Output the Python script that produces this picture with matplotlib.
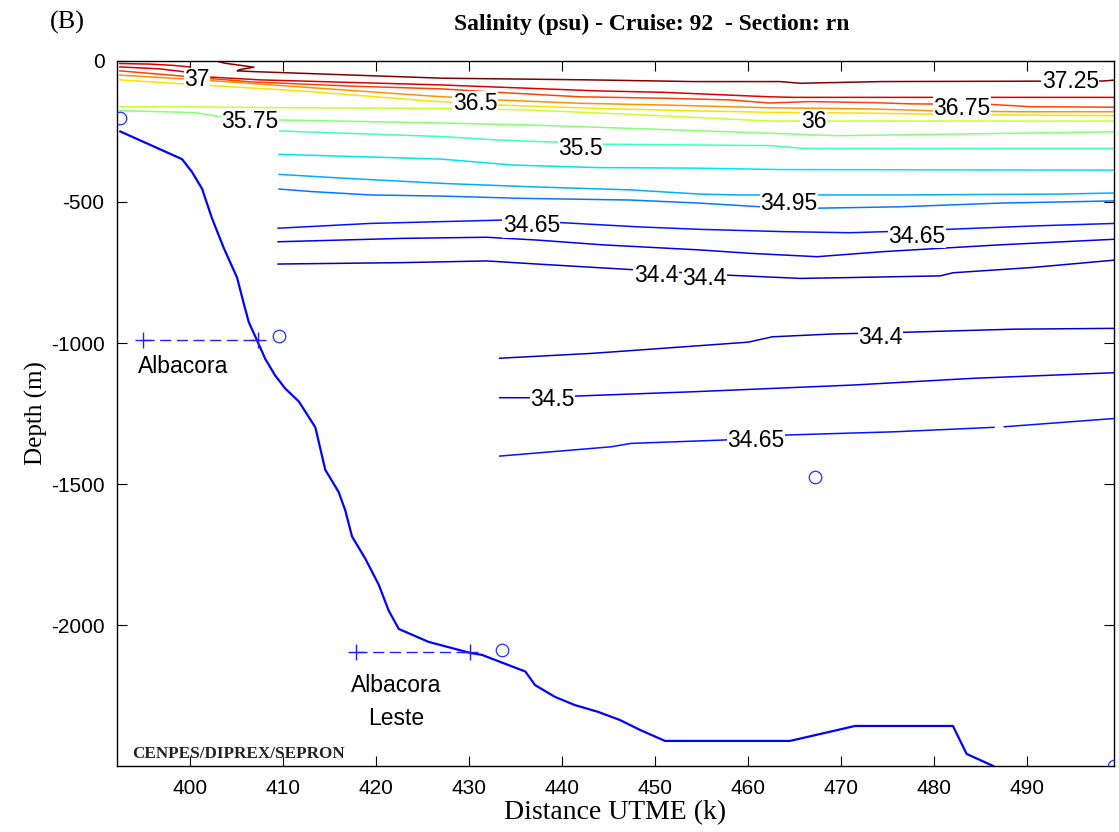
import matplotlib
matplotlib.use('Agg')
import matplotlib.pyplot as plt
from matplotlib.colors import Normalize

plt.rcParams['axes.unicode_minus'] = False
SANS = 'Liberation Sans'
SERIF = 'Liberation Serif'

# ── Isohalines (x in km UTM-E, z in m) ──────────────────
s3725_x = [402.8, 403.8, 406.9, 405.3, 405.1, 407.1, 413.2, 427.1, 443.0, 454.1, 463.4, 465.6, 474.3, 498.1, 499.6]
s3725_z = [0, -8, -22, -31, -35, -38, -45, -61, -67, -73, -73, -79, -73, -71, -67]

s37a_x = [392.5, 395.7, 398.4, 400.0]
s37a_z = [-9, -11, -16, -21]

s37_x = [392.5, 396.8, 399.6, 402.2, 407.6, 415.1, 427.1, 429.4, 436.6, 443.8, 450.8, 462.3, 465.0, 499.6]
s37_z = [-21, -28, -39, -57, -67, -74, -85, -88, -97, -106, -111, -127, -129, -129]

s3675_x = [392.5, 399.0, 406.5, 417.2, 427.1, 433.0, 441.9, 450.8, 458.0, 462.3, 466.6, 473.8, 477.4, 486.0, 490.3, 499.6]
s3675_z = [-35, -53, -74, -89, -99, -111, -127, -132, -138, -149, -144, -148, -152, -154, -162, -164]

s365_x = [392.5, 401.1, 411.9, 425.8, 433.0, 441.9, 450.8, 462.3, 473.1, 480.3, 489.2, 499.6]
s365_z = [-50, -67, -92, -124, -138, -150, -156, -166, -170, -177, -180, -180]

s3625_x = [392.5, 401.1, 411.9, 425.8, 433.0, 443.8, 454.5, 462.3, 473.1, 483.8, 499.6]
s3625_z = [-67, -85, -106, -142, -156, -168, -177, -182, -185, -191, -194]

s36_x = [392.5, 401.1, 411.9, 427.1, 436.6, 447.3, 462.3, 480.3, 499.6]
s36_z = [-162, -163, -166, -168, -174, -189, -213, -213, -213]

s3575_x = [392.5, 400.6, 403.2, 409.6, 427.1, 436.6, 447.3, 462.3, 469.5, 480.3, 499.6]
s3575_z = [-176, -183, -197, -209, -220, -227, -239, -256, -265, -260, -251]

s355_x = [409.6, 427.1, 433.0, 439.5, 444.4, 454.5, 462.3, 465.9, 499.6]
s355_z = [-248, -268, -280, -288, -295, -298, -300, -310, -310]

s3525_x = [409.6, 427.1, 434.7, 443.8, 454.5, 463.4, 499.6]
s3525_z = [-331, -348, -369, -378, -380, -385, -387]

s351_x = [409.6, 416.2, 427.1, 436.6, 447.3, 454.8, 458.8, 476.3, 493.2, 499.6]
s351_z = [-402, -415, -434, -446, -457, -472, -475, -475, -472, -468]

s3495_x = [409.6, 413.1, 419.4, 427.1, 435.5, 447.3, 454.8, 461.3, 467.4, 476.3, 487.0, 499.6]
s3495_z = [-454, -463, -475, -479, -487, -493, -504, -517, -522, -517, -504, -496]

s3465u_x = [409.5, 419.4, 426.6, 433.7, 439.8, 448.1, 454.8, 463.7, 470.9, 474.9, 481.4, 490.6, 499.4]
s3465u_z = [-593, -576, -570, -564, -573, -588, -597, -605, -609, -605, -597, -585, -576]

s345u_x = [409.5, 422.9, 431.9, 437.3, 444.4, 454.8, 460.2, 467.4, 474.5, 487.0, 499.4]
s345u_z = [-641, -629, -625, -635, -652, -670, -682, -694, -676, -652, -632]

s344u_x = [409.5, 422.9, 431.9, 437.3, 448.1, 457.5, 465.6, 470.9, 480.6, 482.0, 490.6, 499.4]
s344u_z = [-720, -715, -709, -720, -741, -759, -771, -768, -762, -751, -732, -706]

s344d_x = [433.3, 443.1, 447.4, 460.0, 462.6, 469.1, 476.8, 488.5, 499.6]
s344d_z = [-1054, -1037, -1027, -997, -978, -968, -962, -951, -948]

s345d_x = [433.3, 436.3, 441.6, 454.0, 471.3, 484.3, 499.6]
s345d_z = [-1194, -1194, -1188, -1173, -1149, -1125, -1105]

s3465d_x = [433.3, 445.3, 447.4, 457.4, 464.3, 475.6, 486.4]
s3465d_z = [-1401, -1368, -1356, -1344, -1326, -1315, -1299]
s3465e_x = [487.5, 499.6]
s3465e_z = [-1297, -1267]

# contour labels: text, x, z
lab_text = ['37', '37.25', '36.5', '36.75', '36', '35.75', '35.5', '34.95',
            '34.65', '34.65', '34.4', '34.4', '34.4', '34.5', '34.65']
lab_x = [400.8, 494.6, 430.65, 482.96, 467.0, 406.5, 442.0, 464.4,
         436.7, 478.1, 450.1, 455.3, 474.2, 439.0, 460.8]
lab_z = [-67, -74, -149, -167, -213, -216, -312, -504,
         -585, -621, -762, -770, -982, -1202, -1344]

# bathymetry
bot_x = [392.55, 399.18, 400.26, 401.33, 402.40, 403.66, 405.09, 405.81, 406.35, 407.24,
         408.13, 409.20, 410.28, 411.72, 413.50, 414.57, 415.29, 416.01, 416.72, 417.44,
         418.87, 420.31, 421.38, 422.46, 425.68, 430.15, 431.40, 436.06, 437.10, 439.25,
         441.39, 443.87, 446.23, 448.38, 451.06, 464.49, 471.47, 481.99, 483.46, 486.32]
bot_z = [-250, -348, -394, -453, -558, -663, -768, -860, -926, -991,
         -1057, -1116, -1162, -1207, -1299, -1450, -1489, -1529, -1594, -1686,
         -1765, -1857, -1949, -2014, -2060, -2099, -2106, -2165, -2213, -2255,
         -2284, -2308, -2337, -2372, -2411, -2411, -2358, -2358, -2457, -2500]

# stations
st_x = [392.5, 409.6, 433.55, 467.2, 499.3]
st_z = [-202, -975, -2089, -1475, -2500]

# oil fields
alb_x = [395.0, 407.35]
alb_z = [-989, -989]
albl_x = [417.9, 430.1]
albl_z = [-2096, -2096]

x_ticks = [400, 410, 420, 430, 440, 450, 460, 470, 480, 490]
y_ticks = [0, -500, -1000, -1500, -2000]

ISOLINES = [
    (37.25, s3725_x, s3725_z), (37.0, s37a_x, s37a_z), (37.0, s37_x, s37_z),
    (36.75, s3675_x, s3675_z), (36.5, s365_x, s365_z), (36.25, s3625_x, s3625_z),
    (36.0, s36_x, s36_z), (35.75, s3575_x, s3575_z), (35.5, s355_x, s355_z),
    (35.25, s3525_x, s3525_z), (35.1, s351_x, s351_z), (34.95, s3495_x, s3495_z),
    (34.65, s3465u_x, s3465u_z), (34.5, s345u_x, s345u_z), (34.4, s344u_x, s344u_z),
    (34.4, s344d_x, s344d_z), (34.5, s345d_x, s345d_z),
    (34.65, s3465d_x, s3465d_z), (34.65, s3465e_x, s3465e_z),
]

cmap = plt.get_cmap('jet')
norm = Normalize(vmin=34.2, vmax=37.25)

fig = plt.figure(figsize=(11.19, 8.32), dpi=100)
ax = fig.add_axes([0.1046, 0.0793, 0.8910, 0.8474])

for lev, xs, zs in ISOLINES:
    ax.plot(xs, zs, color=cmap(norm(lev)), lw=1.1, zorder=2)

for t, x, z in zip(lab_text, lab_x, lab_z):
    ax.text(x, z, t, ha='center', va='center', fontsize=16.5, family=SANS,
            color='black', zorder=4,
            bbox=dict(boxstyle='square,pad=0.02', fc='white', ec='none'))

ax.plot(bot_x, bot_z, color='#0000ff', lw=1.6, zorder=3)
ax.plot(st_x, st_z, ls='none', marker='o', ms=9, mfc='none', mec='#2030ff',
        mew=0.9, zorder=3)

for xs, zs in [(alb_x, alb_z), (albl_x, albl_z)]:
    ax.plot(xs, zs, color='#2020ff', ls=(0, (8, 4)), lw=1, marker='+', ms=11,
            mew=1, zorder=3)
ax.text(399.3, -1082, 'Albacora', ha='center', va='center', fontsize=16.5, family=SANS)
ax.text(422.2, -2216, 'Albacora', ha='center', va='center', fontsize=16.5, family=SANS)
ax.text(422.2, -2330, 'Leste', ha='center', va='center', fontsize=16.5, family=SANS)
ax.text(393.8, -2457, 'CENPES/DIPREX/SEPRON', ha='left', va='center', fontsize=12.3,
        family=SERIF, fontweight='bold', color='#222222')

ax.set_xlim(392.2, 499.3)
ax.set_ylim(-2500, 0)
ax.set_xticks(x_ticks)
ax.set_yticks(y_ticks)
ax.tick_params(direction='in', length=7, width=0.8, top=True, right=True,
               labelsize=15, pad=9)
for lbl in ax.get_xticklabels() + ax.get_yticklabels():
    lbl.set_family(SANS)
for sp in ax.spines.values():
    sp.set_linewidth(1.0)

ax.set_xlabel('Distance UTME (k)', fontsize=20, family=SERIF, labelpad=2)
ax.set_ylabel('Depth (m)', fontsize=18, family=SERIF, labelpad=2)

fig.text(0.582, 0.971, 'Salinity (psu) - Cruise: 92  - Section: rn', ha='center',
         va='center', fontsize=17, family=SERIF, fontweight='bold')
fig.text(0.045, 0.973, '(B)', ha='left', va='center', fontsize=19, family=SERIF)

fig.savefig('out.png', dpi=100)
